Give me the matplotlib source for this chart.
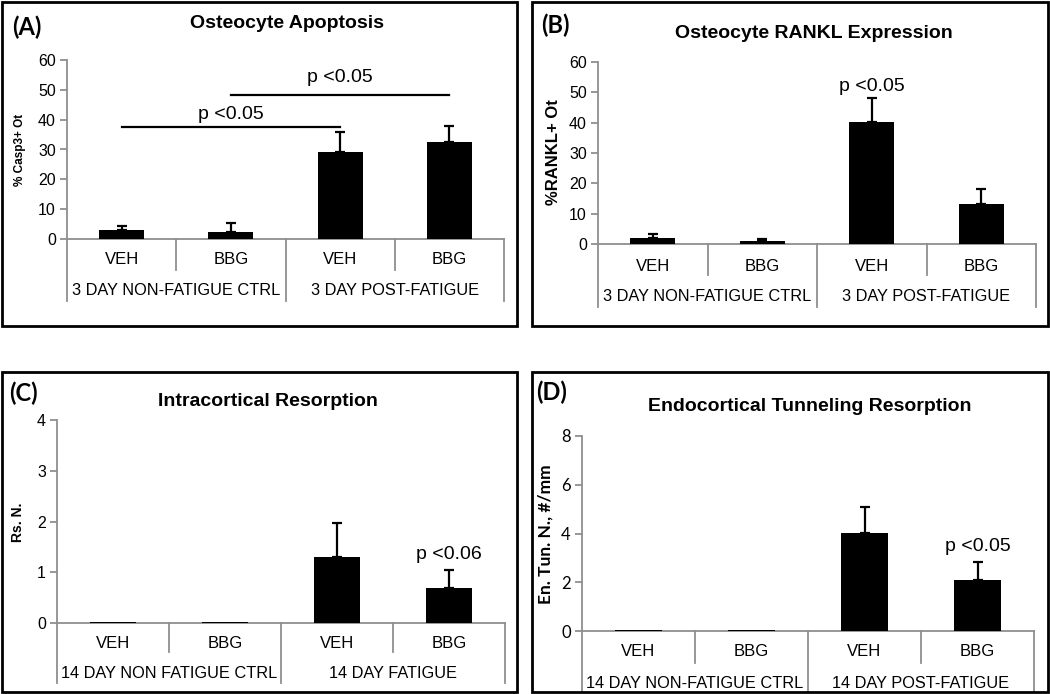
import matplotlib
matplotlib.use("Agg")
import matplotlib.pyplot as plt
from matplotlib.patches import Rectangle
import numpy as np

W, H = 1050, 694

treatments = ["VEH", "BBG", "VEH", "BBG"]

# (A) osteocyte apoptosis
apop_mean = [3.1, 2.2, 29.1, 32.4]
apop_err = [1.4, 3.1, 6.6, 5.6]
apop_groups = ["3 DAY NON-FATIGUE CTRL", "3 DAY POST-FATIGUE"]

# (B) RANKL expression
rankl_mean = [1.9, 0.9, 40.1, 13.2]
rankl_err = [1.4, 0.9, 8.1, 4.8]
rankl_groups = ["3 DAY NON-FATIGUE CTRL", "3 DAY POST-FATIGUE"]

# (C) intracortical resorption
rsn_mean = [0.02, 0.02, 1.30, 0.68]
rsn_err = [0.0, 0.0, 0.67, 0.37]
rsn_groups = ["14 DAY NON FATIGUE CTRL", "14 DAY FATIGUE"]

# (D) endocortical tunneling
tun_mean = [0.05, 0.05, 4.02, 2.09]
tun_err = [0.0, 0.0, 1.06, 0.74]
tun_groups = ["14 DAY NON-FATIGUE CTRL", "14 DAY POST-FATIGUE"]

ARIAL = "Liberation Sans"
CALIBRI = "Lato"
GRAY = "#8f8f8f"


def fx(px):
    return px / W


def fy(py):
    return 1 - py / H


def panel(fig, ax_px, box_px, means, errs, groups, ymax, ystep,
          title, title_xy, letter, letter_xy, ylabel, ylabel_xy, ylabel_size,
          tick_font=ARIAL, tick_size=11.5, ylabel_font=ARIAL, off=(21, 52, 31, 62)):
    x0, ytop, x1, y0 = ax_px
    ax = fig.add_axes([fx(x0), fy(y0), (x1 - x0) / W, (y0 - ytop) / H])
    x = np.arange(len(means))
    ax.bar(x, means, width=0.41, color="black", zorder=3)
    has = [i for i in range(len(errs)) if errs[i] > 0]
    ax.errorbar(x[has], np.array(means)[has],
                yerr=[np.zeros(len(has)), np.array(errs)[has]],
                fmt="none", ecolor="black", elinewidth=1.6, capsize=3.8,
                capthick=1.6, zorder=4)
    ax.set_xlim(-0.5, 3.5)
    ax.set_ylim(0, ymax)
    ax.set_yticks(np.arange(0, ymax + ystep / 2, ystep))
    ax.set_xticks([])
    for s in ["top", "right"]:
        ax.spines[s].set_visible(False)
    for s in ["left", "bottom"]:
        ax.spines[s].set_color(GRAY)
        ax.spines[s].set_linewidth(1.3)
    ax.tick_params(axis="y", colors=GRAY, length=5, width=1.3, labelcolor="black",
                   labelsize=tick_size, pad=3)
    for lb in ax.get_yticklabels():
        lb.set_fontfamily(tick_font)
    ax.patch.set_alpha(0)

    hpx = y0 - ytop
    tr = ax.get_xaxis_transform()
    lab1, lab2, sep1, sep2 = off
    for i, t in enumerate(treatments):
        ax.text(i, -lab1 / hpx, t, transform=tr, ha="center", va="center",
                fontsize=12, family=ARIAL)
    for g, name in enumerate(groups):
        ax.text(0.5 + 2 * g, -lab2 / hpx, name, transform=tr, ha="center",
                va="center", fontsize=11.8, family=ARIAL)
    for b in [-0.5, 0.5, 1.5, 2.5, 3.5]:
        depth = sep2 if b in (-0.5, 1.5, 3.5) else sep1
        ax.plot([b, b], [0, -depth / hpx], transform=tr, color=GRAY, lw=1.3,
                clip_on=False)

    bx0, by0, bx1, by1 = box_px
    fig.add_artist(Rectangle((fx(bx0), fy(by1)), (bx1 - bx0) / W, (by1 - by0) / H,
                             transform=fig.transFigure, fill=False,
                             edgecolor="black", lw=2))
    fig.text(fx(title_xy[0]), fy(title_xy[1]), title, ha="center", va="center",
             fontsize=14, fontweight="bold", family=ARIAL)
    fig.text(fx(letter_xy[0]), fy(letter_xy[1]), letter, ha="left", va="center",
             fontsize=17, fontweight="bold", family=CALIBRI)
    fig.text(fx(ylabel_xy[0]), fy(ylabel_xy[1]), ylabel, ha="center", va="center",
             rotation=90, fontsize=ylabel_size, fontweight="bold", family=ylabel_font)
    return ax


fig = plt.figure(figsize=(W / 100, H / 100), dpi=100)

axA = panel(fig, (67, 60, 504, 239), (2, 2, 517, 326), apop_mean, apop_err,
            apop_groups, 60, 10, "Osteocyte Apoptosis", (287, 24), "(A)", (12, 27),
            "% Casp3+ Ot", (20, 150), 8.5)
axA.plot([0, 2], [37.5, 37.5], color="black", lw=1.6)
axA.plot([1, 3], [48.3, 48.3], color="black", lw=1.6)
axA.text(1, 41.6, "p <0.05", ha="center", va="center", fontsize=14, family=ARIAL)
axA.text(2, 54, "p <0.05", ha="center", va="center", fontsize=14, family=ARIAL)

axB = panel(fig, (598, 62, 1036, 244), (532, 2, 1048, 326), rankl_mean, rankl_err,
            rankl_groups, 60, 10, "Osteocyte RANKL Expression", (814, 34), "(B)",
            (541, 25), "%RANKL+ Ot", (554, 152), 12, off=(23, 53, 31, 63))
axB.text(2, 51.8, "p <0.05", ha="center", va="center", fontsize=14, family=ARIAL)

axC = panel(fig, (57, 420, 505, 623), (2, 372, 517, 692), rsn_mean, rsn_err,
            rsn_groups, 4, 1, "Intracortical Resorption", (268, 402), "(C)",
            (9, 393), "Rs. N.", (18, 522), 10, off=(20, 50, 29, 60))
axC.text(3, 1.34, "p <0.06", ha="center", va="center", fontsize=14, family=ARIAL)

axD = panel(fig, (582, 436, 1034, 631), (532, 372, 1048, 692), tun_mean, tun_err,
            tun_groups, 8, 2, "Endocortical Tunneling Resorption", (810, 406), "(D)",
            (536, 392), "En. Tun. N., #/mm", (546, 534), 12.5,
            tick_font=CALIBRI, tick_size=12, ylabel_font=CALIBRI, off=(21, 52, 32, 60))
axD.text(3, 3.45, "p <0.05", ha="center", va="center", fontsize=14, family=ARIAL)

fig.savefig("out.png", dpi=100)
